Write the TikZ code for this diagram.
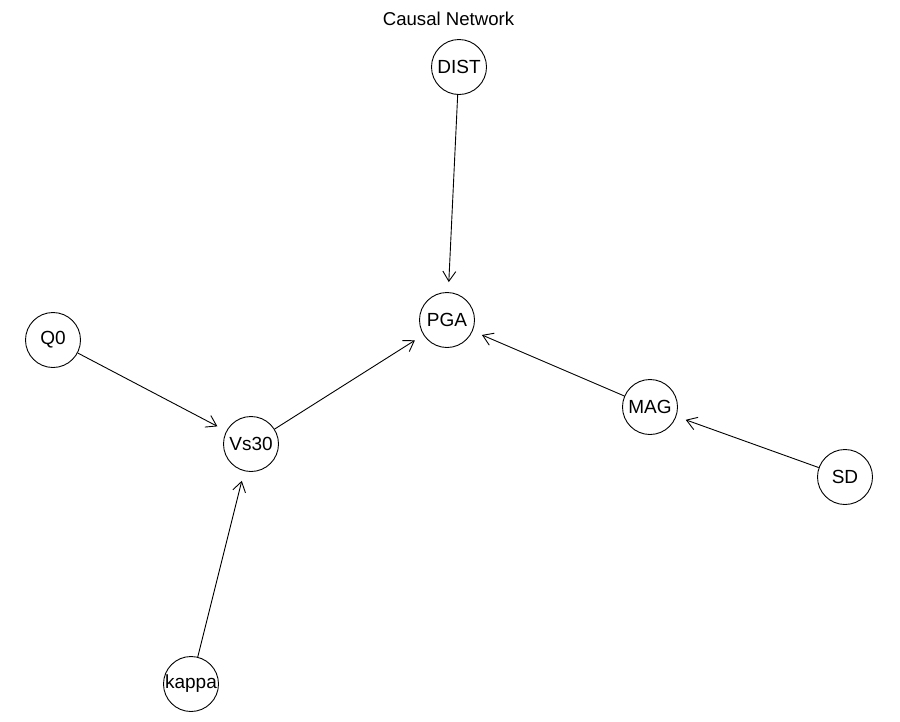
\documentclass[tikz,border=0pt]{standalone}
\usepackage{fontspec}
\setmainfont{Liberation Sans}
\usetikzlibrary{arrows.meta}
\begin{document}
\begin{tikzpicture}[x=1pt,y=-1pt,
  vnode/.style={draw,circle,line width=0.9pt,minimum size=55pt,inner sep=0pt,font=\fontsize{19}{21}\selectfont},
  edge/.style={line width=0.9pt,-{Straight Barb[length=10pt,width=13pt,line width=0.9pt]},shorten >=10pt}]
\useasboundingbox (0,0) rectangle (900,721);
\node[font=\fontsize{18.6}{20}\selectfont] (title) at (448.5,19) {Causal Network};
\node[vnode] (DIST) at (459,67) {DIST};
\node[vnode] (PGA) at (447,320) {PGA};
\node[vnode] (Q0) at (53,340) {Q0};
\node[vnode] (Vs30) at (251,444) {Vs30};
\node[vnode] (MAG) at (650,407) {MAG};
\node[vnode] (SD) at (845,477) {SD};
\node[vnode] (kappa) at (191,684) {kappa};
\draw[edge] (DIST) -- (PGA);
\draw[edge] (Vs30) -- (PGA);
\draw[edge] (MAG) -- (PGA);
\draw[edge] (Q0) -- (Vs30);
\draw[edge] (kappa) -- (Vs30);
\draw[edge] (SD) -- (MAG);
\end{tikzpicture}
\end{document}
